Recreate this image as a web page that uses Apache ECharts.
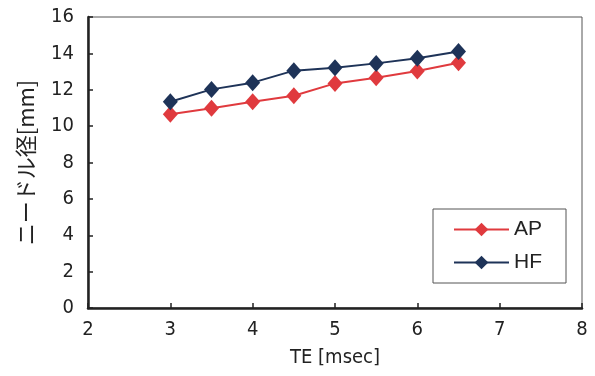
<!DOCTYPE html>
<html>
<head>
<meta charset="utf-8">
<script src="https://cdn.jsdelivr.net/npm/echarts@6/dist/echarts.min.js"></script>
<style>
  html, body { margin: 0; padding: 0; background: #fff; }
  #main { width: 595px; height: 376px; }
</style>
</head>
<body>
<div id="main"></div>
<script>
// TE [msec]
const teValues = [3, 3.5, 4, 4.5, 5, 5.5, 6, 6.5];
// ニードル径 [mm]
const apValues = [10.65, 10.98, 11.34, 11.67, 12.35, 12.66, 13.03, 13.49];
const hfValues = [11.34, 12.02, 12.39, 13.05, 13.21, 13.45, 13.73, 14.10];

const tickFont = "'Liberation Sans Narrow', 'DejaVu Sans Condensed', Arial, sans-serif";

let chart = echarts.init(document.getElementById('main'));
let option = {
    animation: false,
    grid: {
        left: 88, right: 13, top: 17, bottom: 68,
        show: true, borderColor: '#555', borderWidth: 1
    },
    legend: {
        data: ['AP', 'HF'],
        orient: 'vertical',
        left: 433, top: 209,
        padding: [10, 24, 10, 20],
        itemGap: 12,
        itemWidth: 55, itemHeight: 17,
        borderColor: '#555', borderWidth: 1,
        textStyle: { fontSize: 21, color: '#222', fontFamily: 'Liberation Sans, Arial, sans-serif' }
    },
    xAxis: {
        type: 'value',
        min: 2, max: 8, interval: 1,
        name: 'TE [msec]',
        nameLocation: 'middle',
        nameGap: 40,
        nameTextStyle: { fontSize: 20, color: '#222', fontFamily: tickFont },
        axisLine: { show: true, lineStyle: { color: '#222', width: 2.5 } },
        axisTick: { show: true, inside: true, length: 5, lineStyle: { color: '#222', width: 1.5 } },
        axisLabel: { fontSize: 20, color: '#222', margin: 12, fontFamily: tickFont },
        splitLine: { show: false }
    },
    yAxis: {
        type: 'value',
        min: 0, max: 16, interval: 2,
        name: 'ニードル径[mm]',
        nameLocation: 'middle',
        nameGap: 51,
        nameRotate: 90,
        nameTextStyle: { fontSize: 22, color: '#222', fontFamily: "'Noto Sans CJK JP', sans-serif" },
        axisLine: { show: true, lineStyle: { color: '#222', width: 2.5 } },
        axisTick: { show: true, inside: true, length: 5, lineStyle: { color: '#222', width: 1.5 } },
        axisLabel: { fontSize: 20, color: '#222', margin: 14, fontFamily: tickFont },
        splitLine: { show: false }
    },
    series: [
        {
            name: 'AP',
            type: 'line',
            data: teValues.map((x, i) => [x, apValues[i]]),
            symbol: 'diamond',
            symbolSize: [15, 17],
            color: '#e03a3e',
            lineStyle: { width: 2, color: '#e03a3e' },
            itemStyle: { color: '#e03a3e' },
            z: 2
        },
        {
            name: 'HF',
            type: 'line',
            data: teValues.map((x, i) => [x, hfValues[i]]),
            symbol: 'diamond',
            symbolSize: [15, 17],
            color: '#1e3358',
            lineStyle: { width: 2, color: '#1e3358' },
            itemStyle: { color: '#1e3358' },
            z: 3
        }
    ]
};
chart.setOption(option);
</script>
</body>
</html>
